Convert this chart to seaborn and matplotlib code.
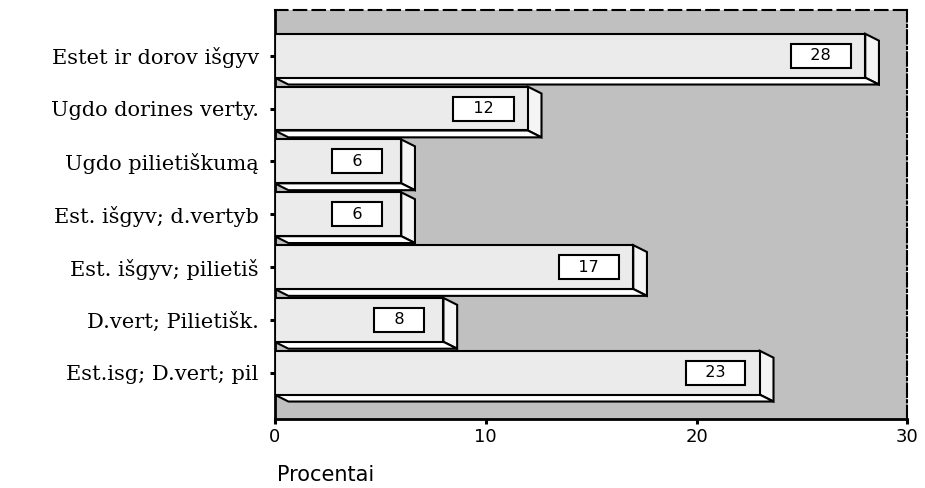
import matplotlib
matplotlib.use("Agg")
import matplotlib.pyplot as plt
import seaborn as sns
import pandas as pd
from matplotlib.patches import Polygon

categories = ["Estet ir dorov išgyv", "Ugdo dorines verty.", "Ugdo pilietiškumą",
              "Est. išgyv; d.vertyb", "Est. išgyv; pilietiš", "D.vert; Pilietišk.",
              "Est.isg; D.vert; pil"]
values = [28, 12, 6, 6, 17, 8, 23]
x_ticks = [0, 10, 20, 30]

df = pd.DataFrame({"cat": categories, "val": values})

sns.set_style("white")
plt.rcParams["text.color"] = "black"
plt.rcParams["xtick.labelcolor"] = "black"
plt.rcParams["ytick.labelcolor"] = "black"
plt.rcParams["axes.labelcolor"] = "black"

fig = plt.figure(figsize=(9.25, 4.88), dpi=100)
ax = fig.add_axes([0.297, 0.142, 0.684, 0.838])
ax.set_facecolor("#c0c0c0")

sns.barplot(data=df, y="cat", x="val", orient="h", color="#ebebeb",
            saturation=1, edgecolor="black", linewidth=1.5, width=0.83, ax=ax, zorder=3)

# pseudo 3D faces, built from the bar patches
dx = 0.65
dy = 0.13
for bar, v in zip(ax.patches, values):
    x0 = bar.get_x()
    w = bar.get_width()
    y0 = bar.get_y()
    h = bar.get_height()
    yb = y0 + h  # lower edge (y axis inverted)
    side = Polygon([(x0 + w, y0), (x0 + w + dx, y0 + dy), (x0 + w + dx, yb + dy), (x0 + w, yb)],
                   closed=True, facecolor="#f5f5f5", edgecolor="black", linewidth=1.5, zorder=2)
    bottom = Polygon([(x0, yb), (x0 + w, yb), (x0 + w + dx, yb + dy), (x0 + dx, yb + dy)],
                     closed=True, facecolor="white", edgecolor="black", linewidth=1.5, zorder=2)
    ax.add_patch(side)
    ax.add_patch(bottom)
    ax.text(v - 2.1, y0 + h / 2, "   " + str(v) + "   ", ha="center", va="center",
            fontsize=11.5, family="DejaVu Sans", color="black", zorder=5,
            bbox=dict(boxstyle="square,pad=0.28", facecolor="white", edgecolor="black", linewidth=1.5))

ax.set_xlim(0, 30)
ax.set_ylim(6.87, -0.87)
ax.set_xticks(x_ticks)
ax.set_xticklabels([str(t) for t in x_ticks], family="DejaVu Sans", fontsize=13)
ax.set_yticks(range(len(categories)))
ax.set_yticklabels(categories, family="DejaVu Serif", fontsize=15)
ax.tick_params(axis="y", length=3.5, width=2.2, color="black", pad=8, left=True)
ax.tick_params(axis="x", length=3.5, width=2.2, color="black", pad=3, bottom=True)
ax.set_ylabel("")
ax.set_xlabel("Procentai", family="DejaVu Sans", fontsize=15, ha="left", va="center")
ax.xaxis.set_label_coords(0.003, -0.138)

ax.spines["left"].set_linewidth(2)
ax.spines["bottom"].set_linewidth(2)
ax.spines["top"].set_linestyle((0, (6, 3)))
ax.spines["top"].set_linewidth(1.5)
ax.spines["right"].set_linestyle("-.")
ax.spines["right"].set_linewidth(1.5)
for s in ax.spines.values():
    s.set_color("black")
    s.set_visible(True)

fig.savefig("out.png", dpi=100)
